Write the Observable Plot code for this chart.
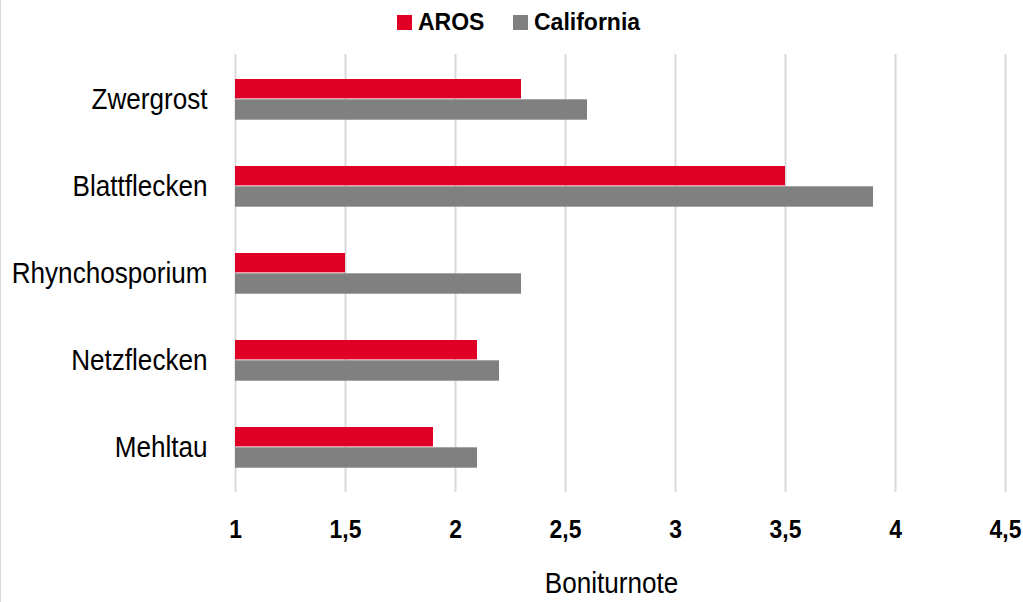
<!DOCTYPE html>
<html>
<head>
<meta charset="utf-8">
<script src="https://cdn.jsdelivr.net/npm/d3@7"></script>
<script src="https://cdn.jsdelivr.net/npm/@observablehq/plot@0.6"></script>
<style>
  html, body { margin: 0; padding: 0; background: #fff; }
  #wrap { width: 1023px; height: 602px; box-sizing: border-box; border-left: 1px solid #d9d9d9; overflow: hidden; }
  #legend { height: 47px; position: relative; font-family: "Liberation Sans", Arial, sans-serif; font-weight: bold; font-size: 23px; color: #000; }
  .item { position: absolute; top: 0; height: 45px; display: flex; align-items: center; }
  .sw { width: 15px; height: 15px; margin-right: 6px; }
</style>
</head>
<body>
<div id="wrap">
  <div id="legend"></div>
  <div id="chart"></div>
</div>
<script>
const categories = ["Zwergrost", "Blattflecken", "Rhynchosporium", "Netzflecken", "Mehltau"];
const aros = [2.3, 3.5, 1.5, 2.1, 1.9];
const california = [2.6, 3.9, 2.3, 2.2, 2.1];
const seriesNames = ["AROS", "California"];
const seriesColors = ["#e10025", "#808080"];
const xTicks = [1, 1.5, 2, 2.5, 3, 3.5, 4, 4.5];
const axisTitle = "Boniturnote";

const data = categories.map((c, i) => ({cat: c, aros: aros[i], california: california[i]}));

// legend
const legend = document.getElementById("legend");
const legendLeft = [396, 512];
seriesNames.forEach((name, i) => {
  const it = document.createElement("div");
  it.className = "item";
  it.style.left = legendLeft[i] + "px";
  it.innerHTML = `<span class="sw" style="background:${seriesColors[i]}"></span><span>${name}</span>`;
  legend.appendChild(it);
});

const fmt = d => String(d).replace(".", ",");

const chart = Plot.plot({
  width: 1022,
  height: 555,
  marginTop: 7,
  marginBottom: 110,
  marginLeft: 234,
  marginRight: 18,
  style: {fontFamily: "Liberation Sans, Arial, sans-serif", background: "#fff", color: "#000"},
  x: {domain: [1, 4.5]},
  y: {domain: categories, padding: 0},
  marks: [
    Plot.ruleX(xTicks, {x: d => d, stroke: "#d9d9d9", strokeWidth: 2}),
    Plot.barX(data, {y: "cat", x1: d => 1, x2: "aros", fill: seriesColors[0], insetTop: 23, insetBottom: 44.6}),
    Plot.barX(data, {y: "cat", x1: d => 1, x2: "california", fill: seriesColors[1], insetTop: 43.3, insetBottom: 23.3}),
    Plot.axisX({ticks: xTicks, tickFormat: fmt, tickSize: 0, tickPadding: 27, fontSize: 26, fontWeight: "bold", label: null}),
    Plot.axisY({tickSize: 0, tickPadding: 28, fontSize: 29, label: null}),
    Plot.text([axisTitle], {frameAnchor: "bottom", dx: -9, dy: 100, fontSize: 29, text: d => d})
  ]
});

// horizontally condense text like the reference (vertical offsets kept)
function condense(sel, k) {
  d3.select(chart).selectAll(sel).each(function() {
    let t = this.getAttribute("transform") || "";
    const x = this.getAttribute("x");
    if (x != null && isFinite(+x)) {
      t += ` translate(${+x},0)`;
      this.removeAttribute("x");
    }
    this.setAttribute("transform", `${t} scale(${k},1)`);
  });
}
condense('g[aria-label="y-axis tick label"] text', 0.9);
condense('g[aria-label="x-axis tick label"] text', 0.88);
condense('g[aria-label="text"] text', 0.9);
document.getElementById("chart").appendChild(chart);
</script>
</body>
</html>
